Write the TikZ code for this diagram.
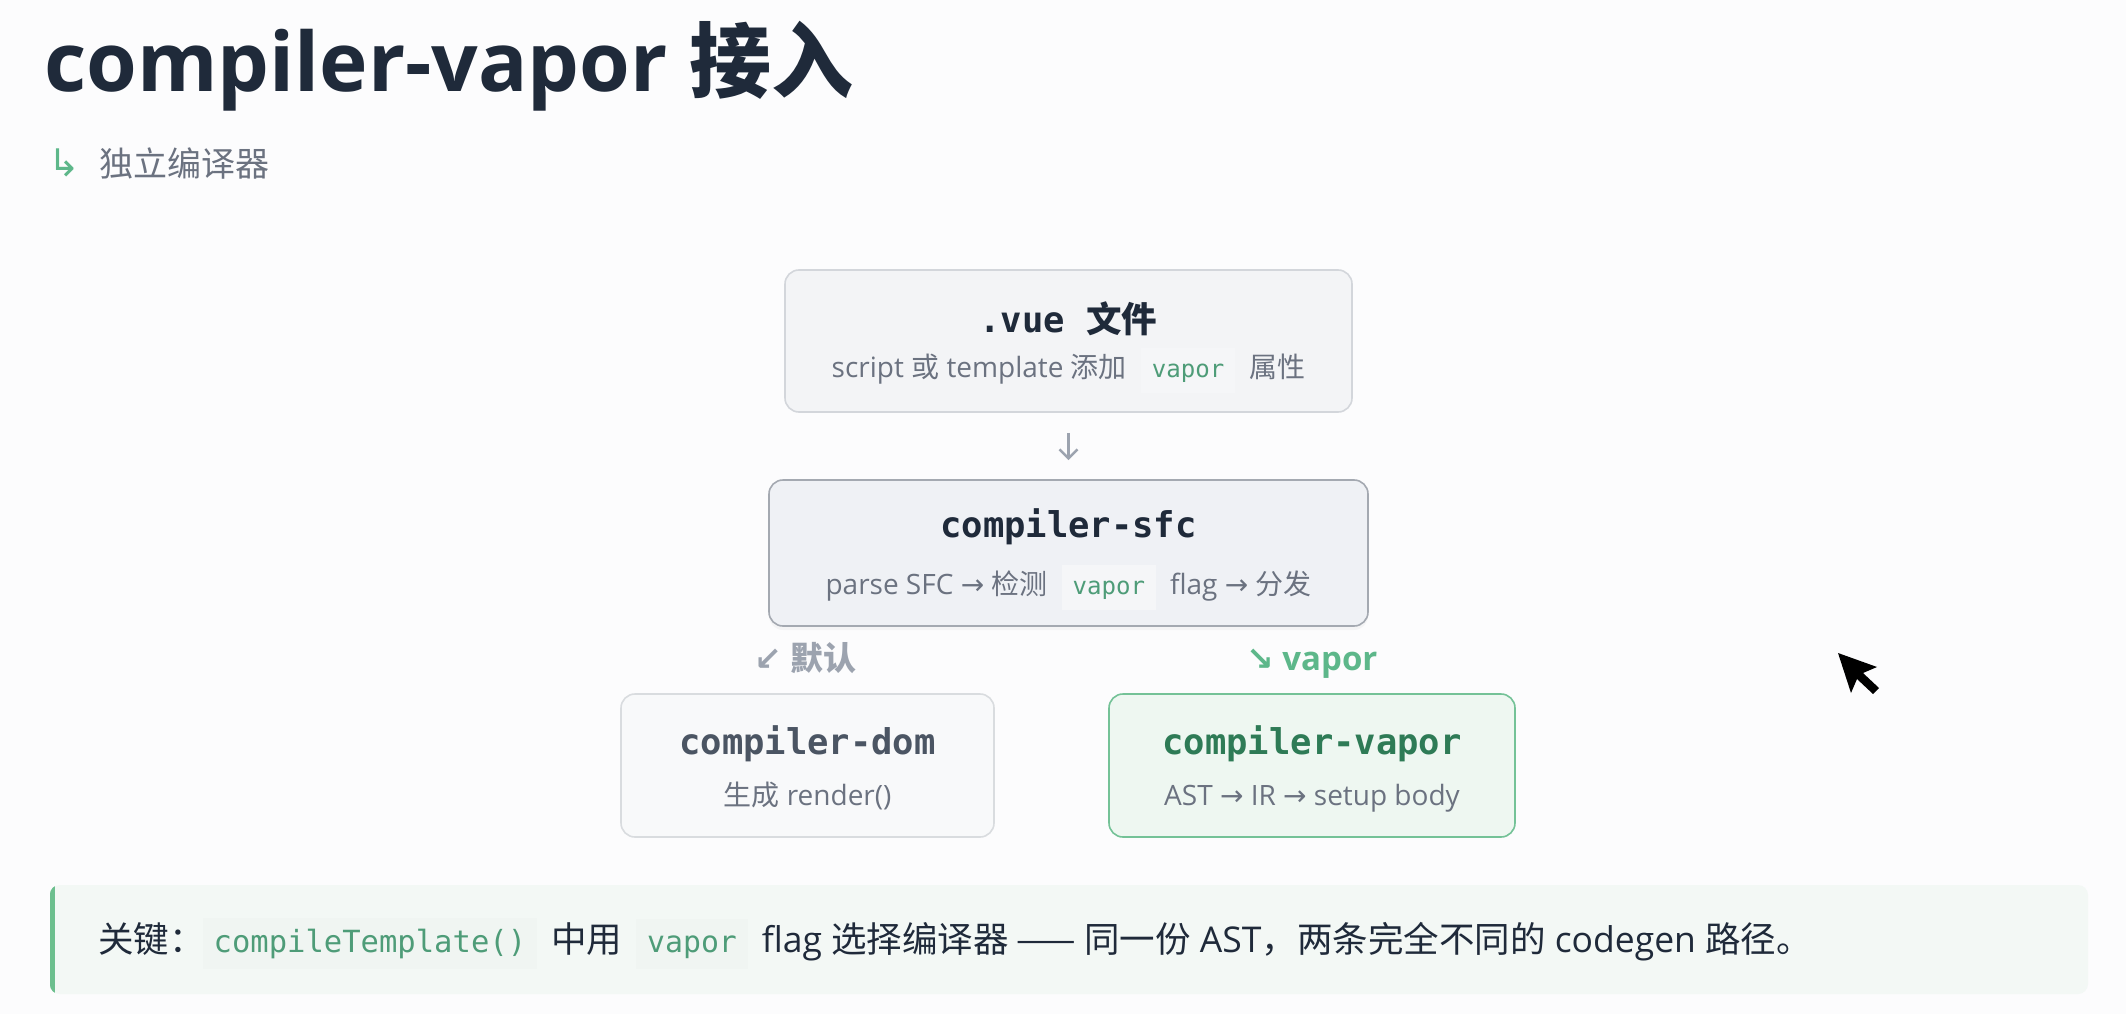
\documentclass[tikz,border=0pt]{standalone}
\usepackage{fontspec}
\setmainfont{Open Sans}
\setmonofont{DejaVu Sans Mono}
\newfontfamily\cjk{Noto Sans CJK SC}
\newfontfamily\arrowfont{DejaVu Sans}
\usetikzlibrary{arrows.meta,shadows}
\definecolor{bgc}{HTML}{FCFCFD}
\definecolor{titlec}{HTML}{1F2A3A}
\definecolor{subgray}{HTML}{6B7280}
\definecolor{accent}{HTML}{5DB78A}
\definecolor{codegreen}{HTML}{4E9C78}
\definecolor{boxAfill}{HTML}{F3F4F6}
\definecolor{boxAdraw}{HTML}{D3D6DB}
\definecolor{boxBfill}{HTML}{EFF1F5}
\definecolor{boxBdraw}{HTML}{A4A9B1}
\definecolor{boxCfill}{HTML}{F8F9FA}
\definecolor{boxCdraw}{HTML}{D9DCDF}
\definecolor{boxDfill}{HTML}{EEF7F1}
\definecolor{boxDdraw}{HTML}{74C297}
\definecolor{vaportitle}{HTML}{2E7B56}
\definecolor{domtitle}{HTML}{4B5563}
\definecolor{callfill}{HTML}{F3F8F5}
\definecolor{callbar}{HTML}{6CBF8E}
\definecolor{chipbg}{HTML}{F5F6F8}
\definecolor{callchip}{HTML}{F0F5F2}
\definecolor{arrowgray}{HTML}{9CA3AF}
\newlength\fsz
\newlength\chipgap
\newcommand\chipcolor{chipbg}
\newcommand\codechip[2][0.86]{\hspace{\chipgap}{\setlength\fboxsep{11pt}\colorbox{\chipcolor}{\ttfamily\fontsize{#1\dimexpr\fsz\relax}{10}\selectfont\color{codegreen}\vphantom{Ap}#2}}\hspace{\chipgap}}
\tikzset{
  card/.style={rectangle, rounded corners=14pt, line width=1.6pt, inner sep=0pt},
  cardtitle/.style={anchor=base, inner sep=0pt, font=\ttfamily\bfseries\fontsize{35.5}{40}\selectfont},
  cardsub/.style={anchor=base, inner sep=0pt, text=subgray, font=\setlength\fsz{28pt}\setlength\chipgap{14pt}\fontsize{28}{34}\selectfont},
  branch/.style={anchor=base west, inner sep=0pt, font=\bfseries\fontsize{33}{38}\selectfont},
}
\begin{document}
\begin{tikzpicture}[x=1pt,y=-1pt]
\fill[bgc] (0,0) rectangle (2126,1014);
\useasboundingbox (0,0) rectangle (2126,1014);

% title
\node[anchor=base west, inner sep=0pt, text=titlec, font=\bfseries\fontsize{82}{90}\selectfont] (title) at (44,92) {compiler-vapor {\cjk\bfseries 接入}};
\node[anchor=base west, inner sep=0pt, text=accent, font=\arrowfont\fontsize{38}{40}\selectfont] (hook) at (48,176) {↳};
\node[anchor=base west, inner sep=0pt, text=subgray, font=\cjk\fontsize{34}{40}\selectfont] (subtitle) at (99,176) {独立编译器};

% cards
\node[card, fill=boxAfill, draw=boxAdraw, minimum width=567pt, minimum height=142pt] (vue) at (1068.5,341) {};
\node[card, fill=boxBfill, draw=boxBdraw, minimum width=599pt, minimum height=146pt, drop shadow={opacity=0.06, shadow xshift=0pt, shadow yshift=-4pt}] (sfc) at (1068.5,553) {};
\node[card, fill=boxCfill, draw=boxCdraw, minimum width=373pt, minimum height=143pt] (dom) at (807.5,765.5) {};
\node[card, fill=boxDfill, draw=boxDdraw, minimum width=406pt, minimum height=143pt] (vapor) at (1312,765.5) {};

% card texts
\node[cardtitle, text=titlec] (vueT) at (1068.5,332) {.vue {\cjk\bfseries 文件}};
\node[cardsub] (vueS) at (1068.5,377) {script {\cjk 或} template {\cjk 添加}\codechip{vapor}{\cjk 属性}};
\node[cardtitle, text=titlec] (sfcT) at (1068.5,537) {compiler-sfc};
\node[cardsub] (sfcS) at (1068.5,594) {parse SFC {\arrowfont →} {\cjk 检测}\codechip{vapor}flag {\arrowfont →} {\cjk 分发}};
\node[cardtitle, text=domtitle] (domT) at (807.5,754) {compiler-dom};
\node[cardsub] (domS) at (807.5,805) {{\cjk 生成} render()};
\node[cardtitle, text=vaportitle] (vapT) at (1312,754) {compiler-vapor};
\node[cardsub] (vapS) at (1312,805) {AST {\arrowfont →} IR {\arrowfont →} setup body};

% arrow between top cards
\draw[arrowgray, line width=2.6pt, shorten <=20pt, shorten >=19pt, -{Straight Barb[length=9pt,width=18pt]}] (vue.south) -- (sfc.north);

% branch labels
\node[branch, text=arrowgray] (lblDefault) at (754,670) {{\arrowfont\bfseries ↙} {\cjk\bfseries 默认}};
\node[branch, text=accent] (lblVapor) at (1246,670) {{\arrowfont\bfseries ↘} vapor};

% callout
\node[rectangle, rounded corners=10pt, fill=callfill, minimum width=2038pt, minimum height=109pt, inner sep=0pt] (call) at (1069,939.5) {};
\begin{scope}
\clip[rounded corners=10pt] (call.north west) rectangle (call.south east);
\fill[callbar] (call.north west) rectangle ([xshift=5pt]call.south west);
\end{scope}
\node[anchor=base west, inner sep=0pt, text=titlec, font=\setlength\fsz{35.5pt}\setlength\chipgap{14pt}\renewcommand\chipcolor{callchip}\fontsize{35.5}{40}\selectfont] (callT) at (98,952) {{\cjk 关键：}\hspace{-16pt}\codechip[0.86]{compileTemplate()}{\cjk 中用}\codechip[0.84]{vapor}flag {\cjk 选择编译器 —— 同一份} AST{\cjk ，两条完全不同的} codegen {\cjk 路径。}};

% mouse cursor
\fill[black] (1838,653) -- (1877,667) -- (1863,673) -- (1879,688) -- (1873,694) -- (1857,679) -- (1851,693) -- cycle;
\end{tikzpicture}
\end{document}
